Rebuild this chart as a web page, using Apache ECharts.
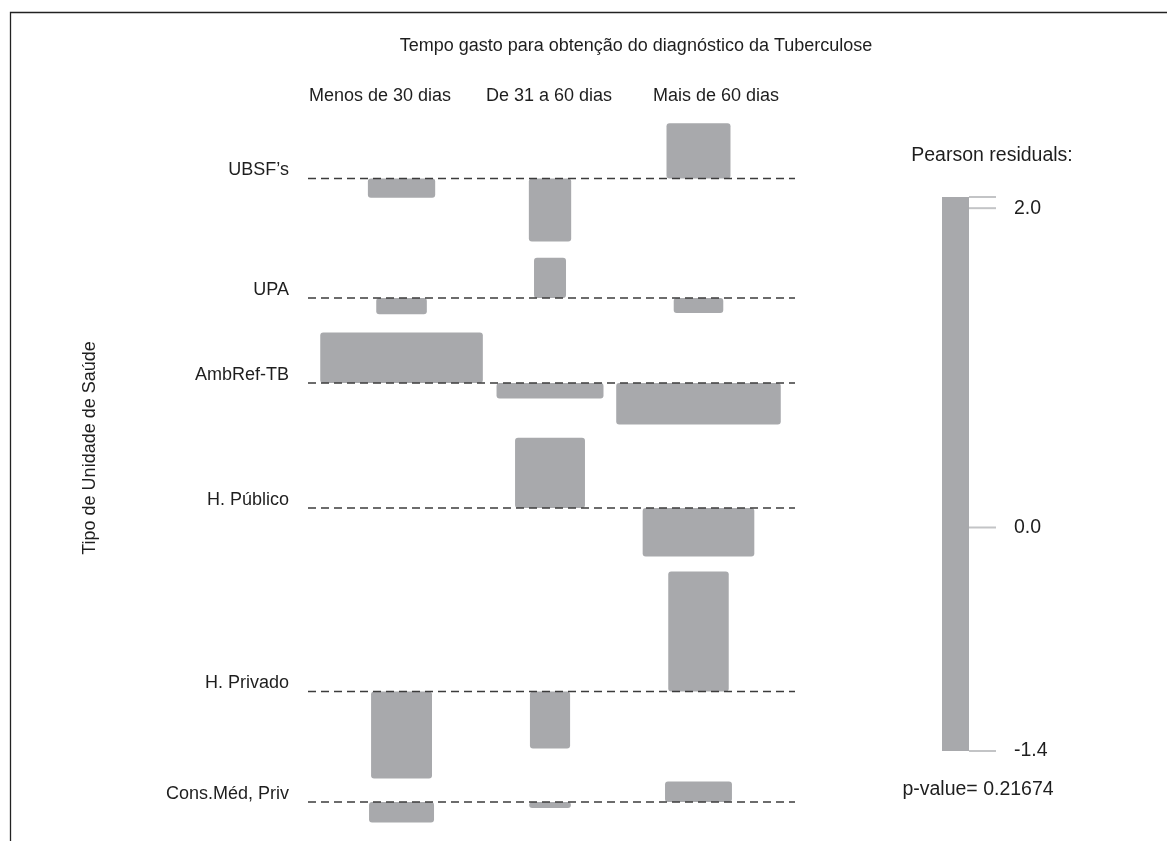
<!DOCTYPE html>
<html><head><meta charset="utf-8">
<script src="https://cdn.jsdelivr.net/npm/echarts@6/dist/echarts.min.js"></script>
<style>html,body{margin:0;padding:0;background:#fff}#c{width:1167px;height:841px}</style>
</head><body><div id="c"></div>
<script>
// ---------------- data ----------------
const title = 'Tempo gasto para obtenção do diagnóstico da Tuberculose';
const rowVarName = 'Tipo de Unidade de Saúde';
const rowLabels = ['UBSF’s', 'UPA', 'AmbRef-TB', 'H. Público', 'H. Privado', 'Cons.Méd, Priv'];
const colLabels = ['Menos de 30 dias', 'De 31 a 60 dias', 'Mais de 60 dias'];
// Pearson residuals (rows x columns)
const residuals = [
  [-0.32, -1.05, 0.92],
  [-0.27, 0.67, -0.25],
  [0.84, -0.26, -0.69],
  [0.00, 1.17, -0.81],
  [-1.45, -0.95, 2.00],
  [-0.34, -0.10, 0.34]
];
// expected frequencies (box width ~ sqrt(expected))
const expected = [
  [17.7, 7.0, 16.0],
  [10.0, 4.0, 9.6],
  [103.3, 44.7, 105.8],
  [46.0, 19.1, 48.7],
  [14.5, 6.3, 14.3],
  [16.5, 6.8, 17.5]
];
const legendTitle = 'Pearson residuals:';
const legendTicks = [2.0, 0.0, -1.4];
const legendRange = [-1.4, 2.07];
const pValue = 0.21674;

// ---------------- layout / style ----------------
const FAM = '"Liberation Sans", Arial, sans-serif';
const FONT = '18px ' + FAM;
const FONT_LEG = '19.5px ' + FAM;
const TXT = '#1e1e1e';
const BOX = '#a8a9ac';
const PX_PER_RES = 60;
const GRID_TOP = 100, GRID_H = 740;
const ROW_BASE_PX = [178.5, 298, 383, 508, 691.5, 802];
const WIDTH_PER_SQRT = 16 / 148.5;
const baseVal = i => (ROW_BASE_PX[i] - GRID_TOP) / PX_PER_RES;

const cellData = [];
residuals.forEach((row, i) => row.forEach((r, j) => cellData.push([j, i, r, expected[i][j]])));

const txt = (text, x, y, font, extra) => Object.assign({type: 'text', x, y, silent: true,
  style: {text, font, fill: TXT, align: 'center', verticalAlign: 'middle'}}, extra || {});

const chart = echarts.init(document.getElementById('c'), null, {renderer: 'canvas'});
chart.setOption({
  animation: false,
  backgroundColor: '#fff',
  grid: [
    {left: 308, width: 487, top: GRID_TOP, height: GRID_H},
    {left: 942, width: 27, top: 197, height: 554}
  ],
  xAxis: [
    {gridIndex: 0, type: 'value', min: -0.63, max: 2.65, show: false},
    {gridIndex: 1, type: 'value', min: 0, max: 1, show: false}
  ],
  yAxis: [
    {gridIndex: 0, type: 'value', inverse: true, min: 0, max: GRID_H / PX_PER_RES, show: false},
    {gridIndex: 1, type: 'value', min: legendRange[0], max: legendRange[1], show: false}
  ],
  graphic: [
    {type: 'rect', shape: {x: 10.5, y: 12.5, width: 1200, height: 900}, style: {fill: 'none', stroke: '#222', lineWidth: 1.3}, silent: true},
    txt(title, 636, 46, FONT),
    txt(colLabels[0], 380, 96, FONT),
    txt(colLabels[1], 549, 96, FONT),
    txt(colLabels[2], 716, 96, FONT),
    txt(rowVarName, 90, 448, FONT, {rotation: Math.PI / 2}),
    txt(legendTitle, 992, 156, FONT_LEG),
    txt('p-value= ' + pValue, 978, 790, FONT_LEG)
  ],
  series: [
    {
      type: 'custom', xAxisIndex: 0, yAxisIndex: 0, clip: false, z: 2,
      data: cellData,
      renderItem(params, api) {
        const c = api.value(0), ri = api.value(1), r = api.value(2), e = api.value(3);
        const b = baseVal(ri);
        const hw = Math.sqrt(e) * WIDTH_PER_SQRT / 2;
        const p1 = api.coord([c - hw, b]);
        const p2 = api.coord([c + hw, b - r]);
        const x = Math.min(p1[0], p2[0]), y = Math.min(p1[1], p2[1]);
        const w = Math.abs(p2[0] - p1[0]), h = Math.abs(p2[1] - p1[1]);
        if (h < 0.5) return null;
        return {type: 'rect', shape: {x, y, width: w, height: h, r: 3}, style: {fill: BOX}};
      }
    },
    {
      type: 'custom', xAxisIndex: 0, yAxisIndex: 0, clip: false, z: 3,
      data: rowLabels.map((l, i) => [0, i]),
      renderItem(params, api) {
        const ri = api.value(1);
        const cs = params.coordSys;
        const y = api.coord([0, baseVal(ri)])[1];
        return {type: 'group', children: [
          {type: 'line', shape: {x1: cs.x, y1: y, x2: cs.x + cs.width, y2: y},
           style: {stroke: '#3c3c3c', lineWidth: 1.5, lineDash: [8, 5]}},
          {type: 'text', style: {text: rowLabels[ri], x: cs.x - 19, y: y - 8, align: 'right', verticalAlign: 'middle', font: FONT, fill: TXT}}
        ]};
      }
    },
    {
      type: 'custom', xAxisIndex: 1, yAxisIndex: 1, clip: false, z: 2,
      data: [[0, legendRange[0], legendRange[1]]],
      renderItem(params, api) {
        const p1 = api.coord([0, api.value(1)]);
        const p2 = api.coord([1, api.value(2)]);
        return {type: 'rect', shape: {x: p1[0], y: p2[1], width: p2[0] - p1[0], height: p1[1] - p2[1]}, style: {fill: BOX}};
      }
    },
    {
      type: 'custom', xAxisIndex: 1, yAxisIndex: 1, clip: false, z: 3,
      data: [[1, legendRange[1]]].concat(legendTicks.map(t => [1, t])),
      renderItem(params, api) {
        const v = api.value(1);
        const p = api.coord([1, v]);
        const lbl = legendTicks.indexOf(v) >= 0 ? v.toFixed(1) : '';
        const kids = [{type: 'line', shape: {x1: p[0], y1: p[1], x2: p[0] + 27, y2: p[1]}, style: {stroke: '#c3c4c6', lineWidth: 2}}];
        if (lbl) kids.push({type: 'text', style: {text: lbl, x: p[0] + 45, y: p[1], align: 'left', verticalAlign: 'middle', font: FONT_LEG, fill: TXT}});
        return {type: 'group', children: kids};
      }
    }
  ]
});
</script>
</body></html>
